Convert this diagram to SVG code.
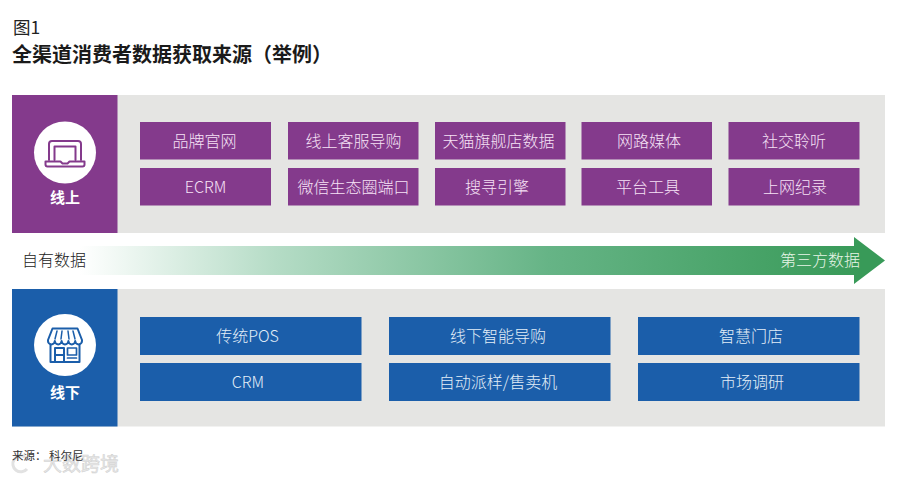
<svg xmlns="http://www.w3.org/2000/svg" width="900" height="481" viewBox="0 0 900 481">
<style>
text{font-family:"Noto Sans CJK SC","Liberation Sans",sans-serif}
.panel{fill:#e5e5e3}
.p{fill:#843a8c}
.b{fill:#1b5eaa}
.lbl{font-size:16px;text-anchor:middle;font-weight:300}
.pl{fill:#f6e2f6}
.bl{fill:#e3eef8}
.head{font-size:15px;font-weight:700;fill:#fff;text-anchor:middle}
.ic{fill:none;stroke-width:2;stroke-linejoin:round;stroke-linecap:round}
</style>
<defs>
<linearGradient id="g" gradientUnits="userSpaceOnUse" x1="80" y1="0" x2="860" y2="0">
<stop offset="0" stop-color="#ffffff"/>
<stop offset="0.25" stop-color="#b5dcc6"/>
<stop offset="0.6" stop-color="#66b486"/>
<stop offset="1" stop-color="#389a58"/>
</linearGradient>
</defs>
<rect width="900" height="481" fill="#fff"/>
<g id="title">
<text x="13" y="34" font-size="17.500" fill="#222">图1</text>
<text x="12" y="61.500" font-size="20" font-weight="700" fill="#1a1a1a">全渠道消费者数据获取来源（举例）</text>
</g>
<g id="online-panel">
<rect class="panel" x="12" y="95" width="873" height="138"/>
<rect class="p" x="12" y="95" width="105.500" height="138"/>
<circle cx="65" cy="152.500" r="31" fill="#fff"/>
<g class="ic" stroke="#843a8c">
<path d="M49 160V144q0-3 3-3h26q3 0 3 3v16"/>
<path d="M54.500 160V146.500h21V160"/>
<path d="M45.500 161.500h15l2 2h5l2-2h15v3q0 2-2 2h-35q-2 0-2-2z"/>
</g>
<text class="head" x="65" y="203">线上</text>
</g>
<g id="offline-panel">
<rect class="panel" x="12" y="289" width="873" height="137.500"/>
<rect class="b" x="12" y="289" width="105.500" height="137.500"/>
<circle cx="65" cy="345" r="31" fill="#fff"/>
<g class="ic" stroke="#1b5eaa">
<path d="M52.500 328.500h25l4.500 11.500v1a3.400 3.400 0 0 1-6.800 0 3.400 3.400 0 0 1-6.800 0 3.400 3.400 0 0 1-6.800 0 3.400 3.400 0 0 1-6.800 0 3.400 3.400 0 0 1-6.800 0v-1z"/>
<path d="M57 331l-2 8M62 331l-1 8M68 331l1 8M73 331l2 8" stroke-width="1.500"/>
<path d="M50.500 345v17h29v-17"/>
<path d="M55 362v-14h9v14M55 355h9"/>
<path d="M67.500 348h9v7h-9zM67.500 358h9" stroke-width="1.700"/>
</g>
<text class="head" x="65" y="397.500">线下</text>
</g>
<g id="online-items">
<g id="n1"><rect class="p" x="140" y="122" width="131" height="37.500"/><text class="lbl pl" x="204.500" y="147">品牌官网</text></g>
<g id="n2"><rect class="p" x="288" y="122" width="130.500" height="37.500"/><text class="lbl pl" x="353.500" y="147">线上客服导购</text></g>
<g id="n3"><rect class="p" x="435" y="122" width="130.500" height="37.500"/><text class="lbl pl" x="498.500" y="147">天猫旗舰店数据</text></g>
<g id="n4"><rect class="p" x="581.500" y="122" width="130.500" height="37.500"/><text class="lbl pl" x="649" y="147">网路媒体</text></g>
<g id="n5"><rect class="p" x="728.500" y="122" width="131" height="37.500"/><text class="lbl pl" x="794" y="147">社交聆听</text></g>
<g id="n6"><rect class="p" x="140" y="168" width="131" height="37.500"/><text class="lbl pl" x="205.500" y="193">ECRM</text></g>
<g id="n7"><rect class="p" x="288" y="168" width="130.500" height="37.500"/><text class="lbl pl" x="353.500" y="193">微信生态圈端口</text></g>
<g id="n8"><rect class="p" x="435" y="168" width="130.500" height="37.500"/><text class="lbl pl" x="497" y="193">搜寻引擎</text></g>
<g id="n9"><rect class="p" x="581.500" y="168" width="130.500" height="37.500"/><text class="lbl pl" x="648" y="193">平台工具</text></g>
<g id="n10"><rect class="p" x="728.500" y="168" width="131" height="37.500"/><text class="lbl pl" x="795" y="193">上网纪录</text></g>
</g>
<g id="offline-items">
<g id="m1"><rect class="b" x="140" y="317" width="221.500" height="38"/><text class="lbl bl" x="247.500" y="342">传统POS</text></g>
<g id="m2"><rect class="b" x="389" y="317" width="221.500" height="38"/><text class="lbl bl" x="498" y="342">线下智能导购</text></g>
<g id="m3"><rect class="b" x="638" y="317" width="221.500" height="38"/><text class="lbl bl" x="751" y="342">智慧门店</text></g>
<g id="m4"><rect class="b" x="140" y="363" width="221.500" height="38"/><text class="lbl bl" x="248" y="388">CRM</text></g>
<g id="m5"><rect class="b" x="389" y="363" width="221.500" height="38"/><text class="lbl bl" x="498" y="388">自动派样/售卖机</text></g>
<g id="m6"><rect class="b" x="638" y="363" width="221.500" height="38"/><text class="lbl bl" x="752" y="388">市场调研</text></g>
</g>
<g id="connectors">
<path d="M12 246H854V237L885 260.500 854 284V275H12z" fill="url(#g)"/>
<text x="22" y="265.500" font-size="16" font-weight="300" fill="#222">自有数据</text>
<text x="780" y="265.500" font-size="16" font-weight="300" fill="#e6f5e6">第三方数据</text>
</g>
<g id="footer">
<text x="43" y="471" font-size="19" font-weight="400" fill="#e8e8e8" stroke="#d0d0d0" stroke-width=".5">大数跨境</text>
<path d="M25 457a8 8 0 1 0 2 12" fill="none" stroke="#e2e2e2" stroke-width="3"/>
<text x="12" y="460" font-size="11.500" fill="#333">来源： 科尔尼</text>
</g>
</svg>
